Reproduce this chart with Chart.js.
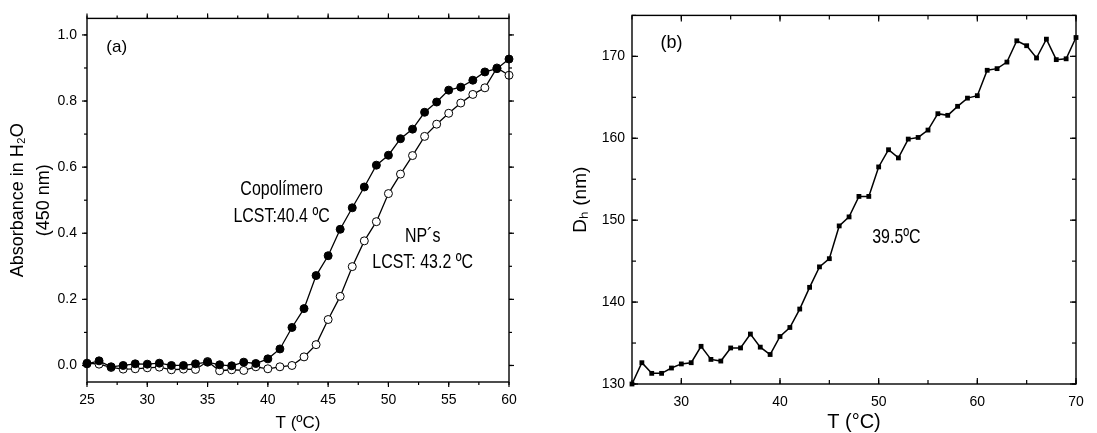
<!DOCTYPE html>
<html>
<head>
<meta charset="utf-8">
<script src="https://cdn.jsdelivr.net/npm/chart.js@4/dist/chart.umd.min.js"></script>
<style>
  html, body { margin: 0; padding: 0; background: #fff; overflow: hidden; width: 1097px; height: 433px; }
  canvas { position: absolute; top: 0; }
  #chartA { left: 0; }
  #chartB { left: 560px; }
</style>
</head>
<body>
<canvas id="chartA" width="548" height="433"></canvas>
<canvas id="chartB" width="560" height="433"></canvas>
<script>
// panel (a): absorbance vs temperature
let tempsA = [25,26,27,28,29,30,31,32,33,34,35,36,37,38,39,40,41,42,43,44,45,46,47,48,49,50,51,52,53,54,55,56,57,58,59,60];
let copolimero = [0.005,0.014,-0.004,0.000,0.005,0.004,0.007,0.000,0.000,0.005,0.010,0.002,-0.001,0.010,0.006,0.020,0.050,0.115,0.172,0.272,0.332,0.412,0.477,0.540,0.606,0.636,0.686,0.715,0.766,0.797,0.833,0.842,0.863,0.888,0.898,0.927];
let nps = [0.007,0.004,-0.006,-0.011,-0.010,-0.007,-0.005,-0.013,-0.011,-0.012,0.012,-0.016,-0.013,-0.015,-0.004,-0.010,-0.004,0.000,0.026,0.063,0.139,0.209,0.299,0.377,0.435,0.520,0.579,0.635,0.693,0.730,0.763,0.794,0.820,0.840,0.900,0.878];
let xTicksA = [25,30,35,40,45,50,55,60];
let yTicksA = [0.0,0.2,0.4,0.6,0.8,1.0];

// panel (b): hydrodynamic diameter vs temperature
let tempsB = [25,26,27,28,29,30,31,32,33,34,35,36,37,38,39,40,41,42,43,44,45,46,47,48,49,50,51,52,53,54,55,56,57,58,59,60,61,62,63,64,65,66,67,68,69,70];
let dh = [130.0,132.6,131.3,131.3,131.95,132.45,132.6,134.6,133.0,132.8,134.4,134.4,136.1,134.5,133.6,135.8,136.9,139.15,141.8,144.3,145.3,149.3,150.4,152.9,152.9,156.5,158.6,157.6,159.9,160.1,161.0,163.0,162.8,163.9,164.9,165.2,168.3,168.5,169.3,171.9,171.3,169.8,172.1,169.6,169.7,172.3];
let xTicksB = [30,40,50,60,70];
let yTicksB = [130,140,150,160,170];

Chart.defaults.font.family = "'Liberation Sans', Arial, sans-serif";
Chart.defaults.color = '#000';

// frame + major/minor ticks on all four sides
const frameTicks = {
  id: 'frameTicks',
  afterDraw(chart, args, o) {
    const {ctx, chartArea: a, scales: {x, y}} = chart;
    const d = o.inward ? -1 : 1;
    ctx.save();
    ctx.strokeStyle = '#000';
    ctx.lineWidth = 1.2;
    function line(x1, y1, x2, y2) { ctx.beginPath(); ctx.moveTo(x1, y1); ctx.lineTo(x2, y2); ctx.stroke(); }
    function markX(v, len) {
      const p = x.getPixelForValue(v);
      line(p, a.bottom, p, a.bottom + d * len);
      line(p, a.top, p, a.top - d * len);
    }
    function markY(v, len) {
      const p = y.getPixelForValue(v);
      line(a.left, p, a.left - d * len, p);
      line(a.right, p, a.right + d * len, p);
    }
    for (let k = Math.ceil(x.min / o.xMinor - 1e-6); k * o.xMinor <= x.max + 1e-6; k++) markX(k * o.xMinor, o.minorLen);
    for (let k = Math.ceil(y.min / o.yMinor - 1e-6); k * o.yMinor <= y.max + 1e-6; k++) markY(k * o.yMinor, o.minorLen);
    x.ticks.forEach(t => markX(t.value, o.majorLen));
    y.ticks.forEach(t => markY(t.value, o.majorLen));
    ctx.lineWidth = 1.4;
    ctx.strokeRect(a.left, a.top, a.right - a.left, a.bottom - a.top);
    ctx.restore();
  }
};

// text labels placed in data coordinates
const notes = {
  id: 'notes',
  afterDraw(chart, args, o) {
    const {ctx, scales: {x, y}} = chart;
    ctx.save();
    ctx.fillStyle = '#000';
    ctx.textAlign = 'center';
    ctx.textBaseline = 'middle';
    o.items.forEach(n => {
      const px = x.getPixelForValue(n.x), py = y.getPixelForValue(n.y);
      ctx.save();
      ctx.translate(px, py);
      ctx.scale(n.narrow ? 0.76 : 1, 1);
      ctx.font = n.size + "px 'Liberation Sans', Arial, sans-serif";
      ctx.fillText(n.text, 0, 0);
      ctx.restore();
    });
    ctx.restore();
  }
};

function fixTicks(list) {
  return s => { s.ticks = list.map(v => ({value: v})); };
}

new Chart(document.getElementById('chartA'), {
  type: 'line',
  data: {
    datasets: [
      {
        label: 'Copolímero',
        data: tempsA.map((t, i) => ({x: t, y: copolimero[i]})),
        borderColor: '#000', borderWidth: 1.3,
        pointRadius: 4, pointBackgroundColor: '#000', pointBorderColor: '#000', pointBorderWidth: 1,
        clip: false
      },
      {
        label: 'NP´s',
        data: tempsA.map((t, i) => ({x: t, y: nps[i]})),
        borderColor: '#000', borderWidth: 1.3,
        pointRadius: 4, pointBackgroundColor: '#fff', pointBorderColor: '#000', pointBorderWidth: 1,
        clip: false
      }
    ]
  },
  options: {
    responsive: false,
    animation: false,
    layout: { padding: { top: 16, right: 39, left: 0, bottom: 0 } },
    plugins: {
      legend: { display: false },
      tooltip: { enabled: false },
      frameTicks: { inward: false, xMinor: 2.5, yMinor: 0.1, majorLen: 5, minorLen: 3 },
      notes: { items: [
        { text: '(a)', x: 27.46, y: 0.963, size: 17 },
        { text: 'Copolímero', x: 41.14, y: 0.533, size: 21, narrow: true },
        { text: 'LCST:40.4 ºC', x: 41.14, y: 0.4526, size: 21, narrow: true },
        { text: 'NP´s', x: 52.84, y: 0.3925, size: 21, narrow: true },
        { text: 'LCST: 43.2 ºC', x: 52.84, y: 0.312, size: 21, narrow: true }
      ] }
    },
    scales: {
      x: {
        type: 'linear', min: 25, max: 60,
        afterBuildTicks: fixTicks(xTicksA),
        afterFit: s => { s.height = 51; },
        grid: { display: false, drawTicks: false },
        border: { display: false },
        ticks: { padding: 10, font: { size: 14 }, autoSkip: false, maxRotation: 0 },
        title: { display: true, text: 'T (ºC)', font: { size: 17, lineHeight: 1 }, padding: { top: 0, bottom: 1 } }
      },
      y: {
        type: 'linear', min: -0.05, max: 1.05,
        afterBuildTicks: fixTicks(yTicksA),
        afterFit: s => { s.width = 87; },
        grid: { display: false, drawTicks: false },
        border: { display: false },
        ticks: { padding: 10, font: { size: 14 }, callback: v => v.toFixed(1) },
        title: { display: true, text: ['Absorbance in H₂O', '(450 nm)'], font: { size: 18, lineHeight: 1.45 }, padding: { top: 5, bottom: 0 } }
      }
    }
  },
  plugins: [frameTicks, notes]
});

new Chart(document.getElementById('chartB'), {
  type: 'line',
  data: {
    datasets: [
      {
        label: 'Dh',
        data: tempsB.map((t, i) => ({x: t, y: dh[i]})),
        borderColor: '#000', borderWidth: 1.5,
        pointStyle: 'rect', pointRadius: 3.4, pointBackgroundColor: '#000', pointBorderColor: '#000', pointBorderWidth: 0,
        clip: false
      }
    ]
  },
  options: {
    responsive: false,
    animation: false,
    layout: { padding: { top: 15, right: 44, left: 0, bottom: 0 } },
    plugins: {
      legend: { display: false },
      tooltip: { enabled: false },
      frameTicks: { inward: true, xMinor: 5, yMinor: 5, majorLen: 6, minorLen: 4 },
      notes: { items: [
        { text: '(b)', x: 29.0, y: 171.67, size: 18 },
        { text: '39.5ºC', x: 51.8, y: 147.9, size: 21, narrow: true }
      ] }
    },
    scales: {
      x: {
        type: 'linear', min: 25, max: 70,
        afterBuildTicks: fixTicks(xTicksB),
        afterFit: s => { s.height = 49; },
        grid: { display: false, drawTicks: false },
        border: { display: false },
        ticks: { padding: 10, font: { size: 14 }, autoSkip: false, maxRotation: 0 },
        title: { display: true, text: 'T (°C)', font: { size: 20, lineHeight: 1 }, padding: { top: 0, bottom: 1 } }
      },
      y: {
        type: 'linear', min: 130, max: 175,
        afterBuildTicks: fixTicks(yTicksB),
        afterFit: s => { s.width = 72; },
        grid: { display: false, drawTicks: false },
        border: { display: false },
        ticks: { padding: 7, font: { size: 14 } },
        title: { display: true, text: 'Dₕ (nm)', font: { size: 19, lineHeight: 1 }, padding: { top: 11, bottom: 0 } }
      }
    }
  },
  plugins: [frameTicks, notes]
});
</script>
</body>
</html>
